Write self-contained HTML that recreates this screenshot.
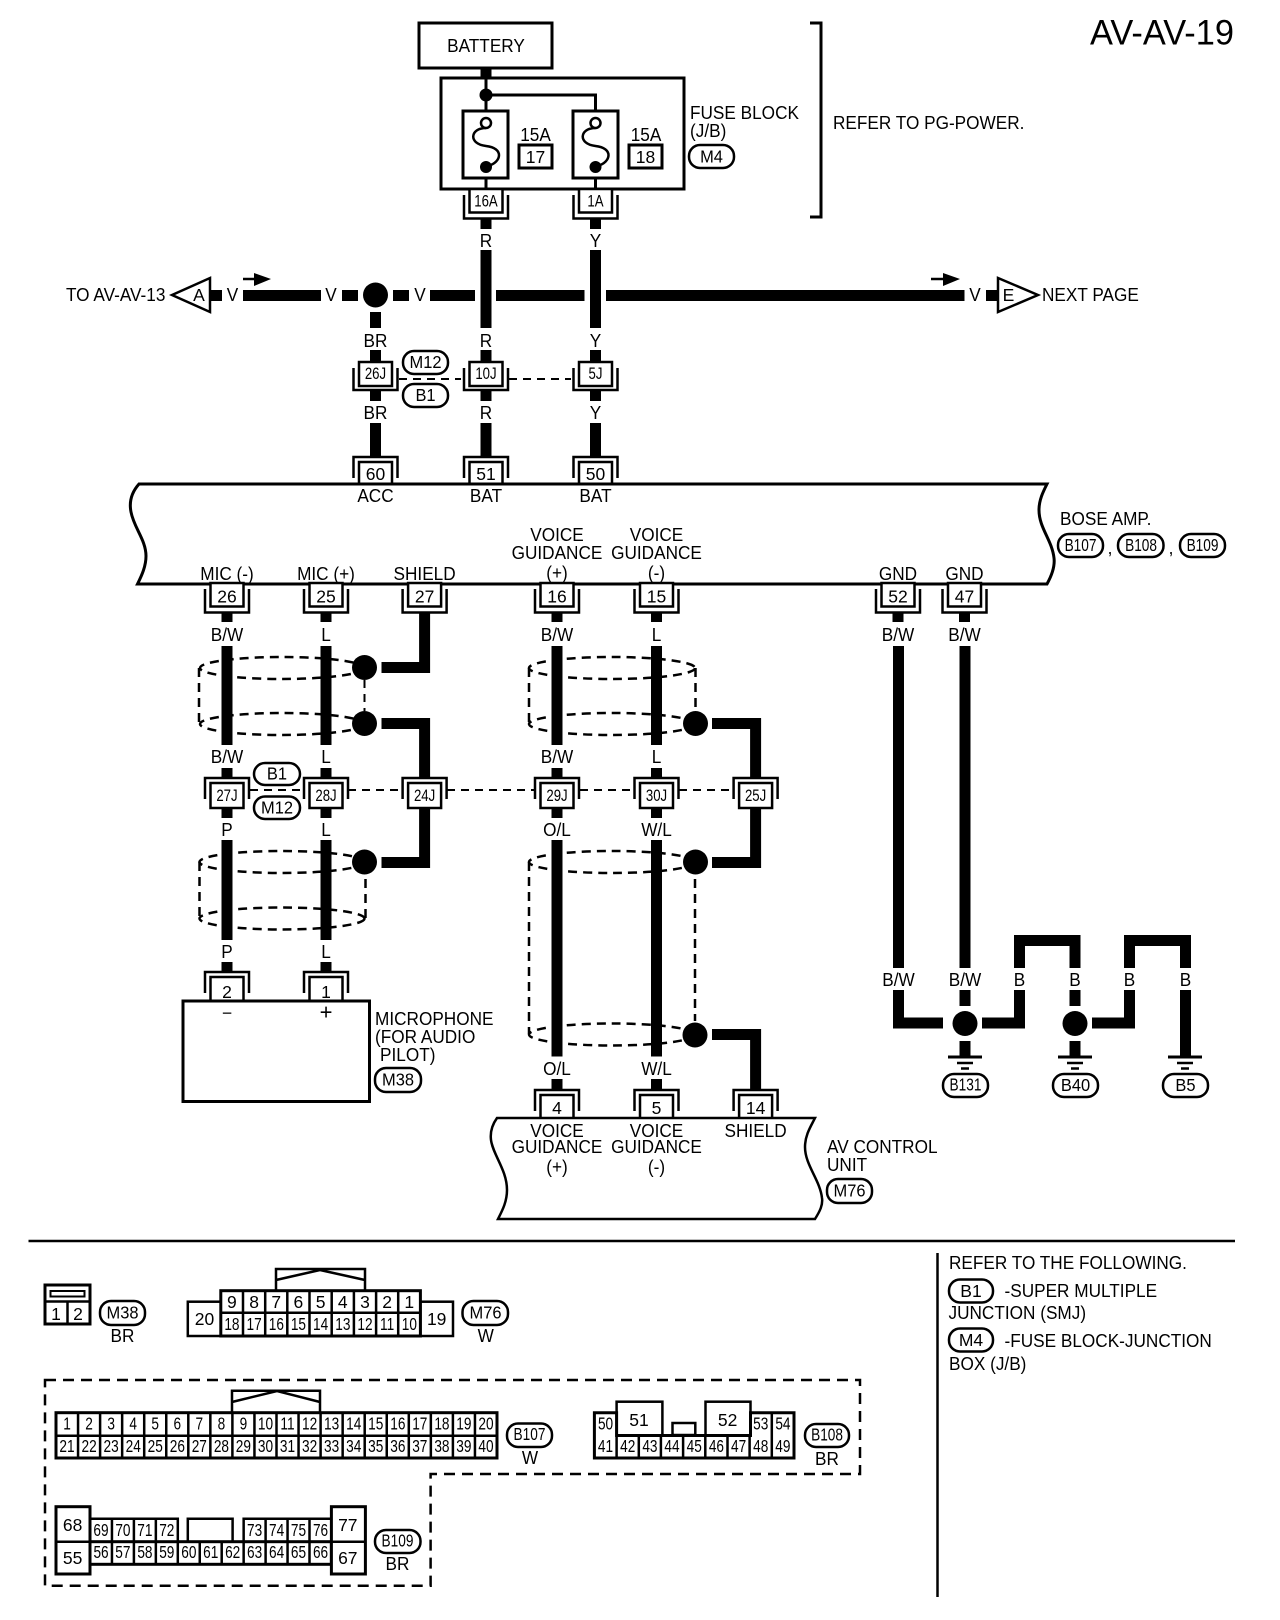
<!DOCTYPE html>
<html lang="en"><head><meta charset="utf-8"><title>AV-AV-19</title>
<style>
html,body{margin:0;padding:0;background:#fff}
svg{display:block}
text{font-family:"Liberation Sans",sans-serif;font-size:18.5px;fill:#000;text-anchor:middle;dominant-baseline:central;transform-box:fill-box;transform-origin:center;transform:scaleX(.93)}
.l{text-anchor:start;transform-origin:left center}
.j{font-size:16.5px;transform:scaleX(.8)}
.n{font-size:17.5px;transform:none}
.p{font-size:17.5px;transform:scaleX(.94)}
.q{font-size:17.5px;transform:scaleX(.78)}
.c{font-size:17.5px;transform:none}
.d{font-size:17.5px;transform:scaleX(.78)}
.h{font-size:35px;transform:none}
.t{stroke:#000;stroke-width:2.5;fill:none}
.w{stroke:#000;stroke-width:11;fill:none}
.v{stroke:#000;stroke-width:2.5;fill:none;stroke-dasharray:9 6}
.f{stroke:#000;stroke-width:2;fill:none;stroke-dasharray:8 6}
.b{fill:#fff;stroke:#000;stroke-width:3}
.o{fill:#fff;stroke:#000;stroke-width:2.5}
</style></head><body>
<svg width="1280" height="1620" viewBox="0 0 1280 1620" xmlns="http://www.w3.org/2000/svg">
<defs>
<g id="dn"><path class="t" d="M-22,5V28.5H22V5"/><rect class="o" x="-16.5" y="-1" width="33" height="23.5"/></g>
<g id="jd"><path class="t" d="M-22,6V28H22V6"/><rect class="o" x="-16.5" y="0" width="33" height="24"/></g>
<g id="up"><path class="t" d="M-22,21V0H22V21"/><rect class="o" x="-16.5" y="5" width="33" height="25"/></g>
<g id="gnd"><path d="M-17,0H17" stroke="#000" stroke-width="3"/><path d="M-8,6H8" stroke="#000" stroke-width="2.5"/><path d="M-4,11.5H4" stroke="#000" stroke-width="2.5"/></g>
<g id="fuse"><path class="t" d="M0,128C-16,128-18,144 0,146C18,148 16,162 2,166"/><circle class="o" cx="0" cy="123" r="5"/><circle cx="0" cy="167" r="6"/></g>
</defs>

<text class="h" x="1162" y="33" textLength="144" lengthAdjust="spacingAndGlyphs">AV-AV-19</text>

<!-- battery and fuses -->
<rect class="b" x="419" y="23" width="133" height="45"/>
<text x="486" y="46">BATTERY</text>
<path class="w" d="M486,68V78"/>
<rect class="b" x="441" y="78" width="243" height="111"/>
<path d="M486,78V118M486,95H595.5V118M486,167V189M595.5,167V189" stroke="#000" stroke-width="3" fill="none"/>
<circle cx="486" cy="95" r="6.5"/>
<rect class="b" x="463" y="111" width="45" height="67"/>
<rect class="b" x="573" y="111" width="45" height="67"/>
<use href="#fuse" x="486"/><use href="#fuse" x="595.5"/>
<text x="535.5" y="135">15A</text><rect class="b" x="519" y="145" width="33" height="23"/><text class="n" x="535.5" y="157">17</text>
<text x="646" y="135">15A</text><rect class="b" x="629" y="145" width="33" height="23"/><text class="n" x="645.5" y="157">18</text>
<text class="l" x="690" y="113">FUSE BLOCK</text><text class="l" x="690" y="131">(J/B)</text>
<rect class="o" x="689" y="145" width="45" height="23" rx="11"/><text class="p" x="711.5" y="157">M4</text>
<path d="M810,23H821V217H810" stroke="#000" stroke-width="3" fill="none"/>
<text class="l" x="833" y="123">REFER TO PG-POWER.</text>

<use href="#dn" x="486" y="190"/><use href="#dn" x="595.5" y="190"/>
<text class="j" x="486" y="201.5">16A</text><text class="j" x="595.5" y="201.5">1A</text>
<path class="w" d="M486,218V229M595.5,218V229M486,250V328M595.5,250V328"/>
<text x="486" y="241">R</text><text x="595.5" y="241">Y</text>

<!-- horizontal V wire -->
<text class="l" x="66" y="295">TO AV-AV-13</text>
<path class="o" d="M172,295L210,278V312Z"/><text class="c" x="199" y="295">A</text>
<path class="w" d="M211,295.5H222M243,295.5H321M342,295.5H358M393,295.5H409M430,295.5H475M496,295.5H584.5M606,295.5H964.5M986,295.5H998"/>
<text x="232.5" y="295">V</text><text x="331" y="295">V</text><text x="420" y="295">V</text><text x="975" y="295">V</text>
<circle cx="375.5" cy="295" r="12.5"/>
<path class="o" d="M1038,295L998,278V312Z"/><text class="c" x="1008.5" y="295">E</text>
<text class="l" x="1042" y="295">NEXT PAGE</text>
<path d="M243,279H258" stroke="#000" stroke-width="2.5"/><path d="M254,273L271,279L254,286Z"/>
<path d="M931,279H946" stroke="#000" stroke-width="2.5"/><path d="M943,273L960,279L943,286Z"/>

<path class="w" d="M375.5,312V328M375.5,350V362M486,350V362M595.5,350V362M375.5,390V401M486,390V401M595.5,390V401M375.5,423V457M486,423V457M595.5,423V457"/>
<text x="375.5" y="341">BR</text><text x="486" y="341">R</text><text x="595.5" y="341">Y</text>
<use href="#jd" x="375.5" y="362"/><use href="#jd" x="486" y="362"/><use href="#jd" x="595.5" y="362"/>
<text class="j" x="375.5" y="374">26J</text><text class="j" x="486" y="374">10J</text><text class="j" x="595.5" y="374">5J</text>
<path class="f" d="M399,379H461M509,379H571"/>
<rect class="o" x="403" y="351" width="45" height="23" rx="11"/><text class="p" x="425.5" y="362.5">M12</text>
<rect class="o" x="403" y="384" width="45" height="23" rx="11"/><text class="p" x="425.5" y="395.5">B1</text>
<text x="375.5" y="413">BR</text><text x="486" y="413">R</text><text x="595.5" y="413">Y</text>

<use href="#up" x="375.5" y="457"/><use href="#up" x="486" y="457"/><use href="#up" x="595.5" y="457"/>

<!-- BOSE AMP block -->
<path class="b" d="M139,484C131,493 129,502 131,512C134,528 146,540 146,556C146,566 142,575 137.5,584H1047C1052,575 1055,566 1054,558C1052,540 1039,528 1039,510C1039,500 1043,492 1047,484Z"/>
<text class="n" x="375.5" y="474">60</text><text class="n" x="486" y="474">51</text><text class="n" x="595.5" y="474">50</text>
<text x="375.5" y="496">ACC</text><text x="486" y="496">BAT</text><text x="595.5" y="496">BAT</text>
<text x="557" y="535">VOICE</text><text x="557" y="553">GUIDANCE</text><text x="557" y="573">(+)</text>
<text x="656.5" y="535">VOICE</text><text x="656.5" y="553">GUIDANCE</text><text x="656.5" y="573">(-)</text>
<text x="227" y="574">MIC (-)</text><text x="326" y="574">MIC (+)</text><text x="424.6" y="574">SHIELD</text>
<text x="898" y="574">GND</text><text x="964.5" y="574">GND</text>
<text class="l" x="1060" y="519">BOSE AMP.</text>
<rect class="o" x="1058" y="534" width="45" height="23" rx="11"/><text class="q" x="1080.5" y="546">B107</text><text x="1110" y="548">,</text>
<rect class="o" x="1118" y="534" width="45.5" height="23" rx="11"/><text class="q" x="1141" y="546">B108</text><text x="1171" y="548">,</text>
<rect class="o" x="1180" y="534" width="45" height="23" rx="11"/><text class="q" x="1202.5" y="546">B109</text>

<use href="#dn" x="227" y="584"/><use href="#dn" x="326" y="584"/><use href="#dn" x="424.6" y="584"/><use href="#dn" x="557" y="584"/><use href="#dn" x="656.5" y="584"/><use href="#dn" x="898" y="584"/><use href="#dn" x="964.5" y="584"/>
<text class="n" x="227" y="596.5">26</text><text class="n" x="326" y="596.5">25</text><text class="n" x="424.6" y="596.5">27</text><text class="n" x="557" y="596.5">16</text><text class="n" x="656.5" y="596.5">15</text><text class="n" x="898" y="596.5">52</text><text class="n" x="964.5" y="596.5">47</text>

<!-- shields -->
<ellipse class="v" cx="282" cy="668" rx="82" ry="11"/><ellipse class="v" cx="282" cy="724" rx="82" ry="11"/>
<path class="v" d="M199,668V724"/><path class="f" d="M364.5,680V711"/>
<ellipse class="v" cx="612" cy="668" rx="83" ry="11"/><ellipse class="v" cx="612" cy="724" rx="83" ry="11"/>
<path class="v" d="M529,668V724M695.5,668V712"/>
<ellipse class="v" cx="282" cy="862" rx="82.5" ry="11"/><ellipse class="v" cx="282" cy="918.5" rx="82.5" ry="11"/>
<path class="v" d="M199.5,862V918M365.5,879V918"/>
<ellipse class="v" cx="612" cy="862" rx="83" ry="11"/><ellipse class="v" cx="612" cy="1034.5" rx="83" ry="11"/>
<path class="v" d="M529,862V1034M695,879V1021"/>

<!-- mic/voice wires -->
<path class="w" d="M227,612V622M326,612V622M557,612V622M656.5,612V622M898,612V622M964.5,612V622M227,646V745M326,646V745M557,646V745M656.5,646V745M227,768V778M326,768V778M557,768V778M656.5,768V778M227,808V818M326,808V818M557,808V818M656.5,808V818M227,840V940M326,840V940M557,840V1056.5M656.5,840V1056.5M227,962V972M326,962V972M557,1079V1090M656.5,1079V1090"/>
<path class="w" d="M424.6,612V667.5H381.5M381.5,723.5H424.6V778M424.6,808V862.5H381.5M712,723.5H755.6V778M755.6,808V862.5H712M712,1034.5H755.6V1090M898.5,646V968M965,646V968"/>
<circle cx="364.5" cy="667.5" r="12.5"/><circle cx="364.5" cy="723.5" r="12.5"/><circle cx="364.5" cy="862" r="12.5"/>
<circle cx="695.5" cy="723.5" r="12.5"/><circle cx="695.5" cy="862" r="12.5"/><circle cx="695" cy="1035" r="12.5"/>
<text x="227" y="635">B/W</text><text x="326" y="635">L</text><text x="557" y="635">B/W</text><text x="656.5" y="635">L</text><text x="898" y="635">B/W</text><text x="964.5" y="635">B/W</text>
<text x="227" y="757">B/W</text><text x="326" y="757">L</text><text x="557" y="757">B/W</text><text x="656.5" y="757">L</text>
<text x="227" y="830">P</text><text x="326" y="830">L</text><text x="557" y="830">O/L</text><text x="656.5" y="830">W/L</text>

<path class="f" d="M250,790H303M348,790H403M447,790H534M580,790H633M679,790H734"/>
<use href="#up" x="227" y="778"/><use href="#up" x="326" y="778"/><use href="#up" x="424.6" y="778"/><use href="#up" x="557" y="778"/><use href="#up" x="656.5" y="778"/><use href="#up" x="755.6" y="778"/>
<text class="j" x="227" y="796">27J</text><text class="j" x="326" y="796">28J</text><text class="j" x="424.6" y="796">24J</text><text class="j" x="557" y="796">29J</text><text class="j" x="656.5" y="796">30J</text><text class="j" x="755.6" y="796">25J</text>
<rect class="o" x="254" y="763" width="46" height="22" rx="11"/><text class="p" x="277" y="774">B1</text>
<rect class="o" x="254" y="796.5" width="46" height="22.5" rx="11"/><text class="p" x="277" y="808">M12</text>

<text x="227" y="952">P</text><text x="326" y="952">L</text>
<use href="#up" x="227" y="972"/><use href="#up" x="326" y="972"/>
<rect class="b" x="183" y="1001" width="186.5" height="100.5"/>
<text class="n" x="227" y="992">2</text><text class="n" x="326" y="992">1</text>
<text class="n" x="227" y="1013">−</text><text style="font-size:22px;transform:none" x="326" y="1012">+</text>
<text class="l" x="375" y="1019">MICROPHONE</text><text class="l" x="375" y="1037">(FOR AUDIO</text><text class="l" x="380" y="1055">PILOT)</text>
<rect class="o" x="375" y="1068" width="46" height="24" rx="11"/><text class="p" x="398" y="1080">M38</text>

<text x="557" y="1069">O/L</text><text x="656.5" y="1069">W/L</text>
<use href="#up" x="557" y="1090"/><use href="#up" x="656.5" y="1090"/><use href="#up" x="755.6" y="1090"/>
<!-- AV control unit -->
<path class="o" d="M497,1118C492,1125 490,1132 491,1140C493,1155 507,1170 507,1190C507,1202 502,1211 498,1219H815C820,1211 823,1205 822,1198C820,1180 805,1165 805,1147C805,1135 811,1126 815,1118Z"/>
<text class="n" x="557" y="1108">4</text><text class="n" x="656.5" y="1108">5</text><text class="n" x="755.6" y="1108">14</text>
<text x="557" y="1131">VOICE</text><text x="557" y="1147">GUIDANCE</text><text x="557" y="1167">(+)</text>
<text x="656.5" y="1131">VOICE</text><text x="656.5" y="1147">GUIDANCE</text><text x="656.5" y="1167">(-)</text>
<text x="755.6" y="1131">SHIELD</text>
<text class="l" x="827" y="1147">AV CONTROL</text><text class="l" x="827" y="1165">UNIT</text>
<rect class="o" x="827" y="1179" width="45" height="24" rx="11"/><text class="p" x="849.5" y="1191">M76</text>

<!-- grounds -->
<path class="w" d="M898.5,990V1023H943M965,990V1006M965,1041V1057M982,1023H1019.5V990M1019.5,968V940.5H1075V968M1075,990V1006M1075,1041V1057M1092,1023H1129.5V990M1129.5,968V940.5H1185.5V968M1185.5,990V1057"/>
<circle cx="965" cy="1023.5" r="12.5"/><circle cx="1075" cy="1023.5" r="12.5"/>
<text x="898.5" y="980">B/W</text><text x="965" y="980">B/W</text><text x="1019.5" y="980">B</text><text x="1075" y="980">B</text><text x="1129.5" y="980">B</text><text x="1185.5" y="980">B</text>
<use href="#gnd" x="965" y="1057"/><use href="#gnd" x="1075" y="1057"/><use href="#gnd" x="1185" y="1057"/>
<rect class="o" x="943" y="1074" width="45" height="23" rx="11"/><text class="q" x="965.5" y="1085.5">B131</text>
<rect class="o" x="1053" y="1074" width="45" height="23" rx="11"/><text class="p" x="1075.5" y="1085.5">B40</text>
<rect class="o" x="1163" y="1074" width="45" height="23" rx="11"/><text class="p" x="1185.5" y="1085.5">B5</text>

<!-- bottom panel -->
<path d="M28.5,1241H1235" stroke="#000" stroke-width="2.5"/>
<path d="M937.5,1253V1597" stroke="#000" stroke-width="2.5"/>
<text class="l" x="949" y="1263">REFER TO THE FOLLOWING.</text>
<rect class="o" x="949" y="1279.5" width="44" height="23" rx="11"/><text class="c" x="971" y="1291">B1</text>
<text class="l" x="1004.5" y="1291">-SUPER MULTIPLE</text>
<text class="l" x="948.5" y="1313">JUNCTION (SMJ)</text>
<rect class="o" x="949" y="1328.5" width="44" height="23" rx="11"/><text class="c" x="971" y="1340">M4</text>
<text class="l" x="1004.5" y="1341">-FUSE BLOCK-JUNCTION</text>
<text class="l" x="949" y="1364">BOX (J/B)</text>

<!-- M38 connector -->
<rect class="b" x="45" y="1285" width="45" height="39"/>
<rect x="50.5" y="1291" width="34" height="5.5" fill="none" stroke="#000" stroke-width="2"/>
<path class="t" d="M45,1301.5H90M67.5,1301.5V1324"/>
<text class="n" x="56" y="1314">1</text><text class="n" x="78" y="1314">2</text>
<rect class="o" x="100" y="1301" width="45" height="24" rx="11"/><text class="p" x="122.5" y="1313">M38</text>
<text x="122.5" y="1336">BR</text>

<!-- M76 connector -->
<path class="t" d="M276,1290.5V1269H365V1290.5M276,1280L320,1270L365,1280"/>
<rect class="o" x="187.8" y="1301.7" width="33" height="34.3"/><rect class="o" x="420.4" y="1301.7" width="32.6" height="34.3"/>
<rect class="b" x="220.8" y="1290.7" width="199.6" height="45.3"/>
<path class="t" d="M220.8,1312.7H420.4M243,1290.7V1336M265.2,1290.7V1336M287.3,1290.7V1336M309.5,1290.7V1336M331.7,1290.7V1336M353.9,1290.7V1336M376.1,1290.7V1336M398.2,1290.7V1336"/>
<text class="n" x="231.9" y="1302">9</text><text class="n" x="254.1" y="1302">8</text><text class="n" x="276.3" y="1302">7</text><text class="n" x="298.4" y="1302">6</text><text class="n" x="320.6" y="1302">5</text><text class="n" x="342.8" y="1302">4</text><text class="n" x="365" y="1302">3</text><text class="n" x="387.1" y="1302">2</text><text class="n" x="409.3" y="1302">1</text>
<text class="d" x="231.9" y="1325">18</text><text class="d" x="254.1" y="1325">17</text><text class="d" x="276.3" y="1325">16</text><text class="d" x="298.4" y="1325">15</text><text class="d" x="320.6" y="1325">14</text><text class="d" x="342.8" y="1325">13</text><text class="d" x="365" y="1325">12</text><text class="d" x="387.1" y="1325">11</text><text class="d" x="409.3" y="1325">10</text>
<text class="c" x="204.5" y="1319">20</text><text class="c" x="436.7" y="1319">19</text>
<rect class="o" x="462.5" y="1301" width="45.5" height="24" rx="11"/><text class="p" x="485.5" y="1313">M76</text>
<text x="485.7" y="1336">W</text>

<!-- dashed outline -->
<path class="v" d="M45,1380H860V1474H430.6V1585.7H45Z" style="stroke-dasharray:11 7"/>

<!-- B107 -->
<path class="t" d="M232,1412V1390.7H320V1412M232,1402L277,1391L320,1402"/>
<rect class="b" x="56" y="1412.7" width="441" height="45.3"/>
<path class="t" d="M56,1435.7H497M78.05,1412.7V1458M100.1,1412.7V1458M122.15,1412.7V1458M144.2,1412.7V1458M166.25,1412.7V1458M188.3,1412.7V1458M210.35,1412.7V1458M232.4,1412.7V1458M254.45,1412.7V1458M276.5,1412.7V1458M298.55,1412.7V1458M320.6,1412.7V1458M342.65,1412.7V1458M364.7,1412.7V1458M386.75,1412.7V1458M408.8,1412.7V1458M430.85,1412.7V1458M452.9,1412.7V1458M474.95,1412.7V1458"/>
<text class="d" x="67" y="1424.5">1</text><text class="d" x="89.1" y="1424.5">2</text><text class="d" x="111.1" y="1424.5">3</text><text class="d" x="133.2" y="1424.5">4</text><text class="d" x="155.2" y="1424.5">5</text><text class="d" x="177.3" y="1424.5">6</text><text class="d" x="199.3" y="1424.5">7</text><text class="d" x="221.4" y="1424.5">8</text><text class="d" x="243.4" y="1424.5">9</text><text class="d" x="265.5" y="1424.5">10</text><text class="d" x="287.5" y="1424.5">11</text><text class="d" x="309.6" y="1424.5">12</text><text class="d" x="331.6" y="1424.5">13</text><text class="d" x="353.7" y="1424.5">14</text><text class="d" x="375.7" y="1424.5">15</text><text class="d" x="397.8" y="1424.5">16</text><text class="d" x="419.8" y="1424.5">17</text><text class="d" x="441.9" y="1424.5">18</text><text class="d" x="463.9" y="1424.5">19</text><text class="d" x="486" y="1424.5">20</text>
<text class="d" x="67" y="1447">21</text><text class="d" x="89.1" y="1447">22</text><text class="d" x="111.1" y="1447">23</text><text class="d" x="133.2" y="1447">24</text><text class="d" x="155.2" y="1447">25</text><text class="d" x="177.3" y="1447">26</text><text class="d" x="199.3" y="1447">27</text><text class="d" x="221.4" y="1447">28</text><text class="d" x="243.4" y="1447">29</text><text class="d" x="265.5" y="1447">30</text><text class="d" x="287.5" y="1447">31</text><text class="d" x="309.6" y="1447">32</text><text class="d" x="331.6" y="1447">33</text><text class="d" x="353.7" y="1447">34</text><text class="d" x="375.7" y="1447">35</text><text class="d" x="397.8" y="1447">36</text><text class="d" x="419.8" y="1447">37</text><text class="d" x="441.9" y="1447">38</text><text class="d" x="463.9" y="1447">39</text><text class="d" x="486" y="1447">40</text>
<rect class="o" x="507" y="1423.5" width="45" height="23.5" rx="11"/><text class="q" x="529.5" y="1435">B107</text>
<text x="530" y="1458">W</text>

<!-- B108 -->
<rect class="o" x="616.6" y="1401.7" width="45.8" height="34"/><rect class="o" x="705.5" y="1401.7" width="45" height="34"/><rect class="o" x="672.5" y="1423" width="22.8" height="12"/>
<path class="b" d="M594.4,1412.7H616.6V1435.5H750.5V1412.7H794V1458H594.4Z"/>
<path class="t" d="M616.6,1412.7V1458M638.8,1435.5V1458M660.9,1435.5V1458M683.1,1435.5V1458M705.3,1435.5V1458M727.5,1435.5V1458M749.6,1435.5V1458M771.8,1412.7V1458"/>
<text class="d" x="605.5" y="1424.5">50</text><text class="c" x="639" y="1420">51</text><text class="c" x="727.6" y="1420">52</text><text class="d" x="760.7" y="1424.5">53</text><text class="d" x="782.9" y="1424.5">54</text>
<text class="d" x="605.5" y="1447">41</text><text class="d" x="627.7" y="1447">42</text><text class="d" x="649.9" y="1447">43</text><text class="d" x="672" y="1447">44</text><text class="d" x="694.2" y="1447">45</text><text class="d" x="716.4" y="1447">46</text><text class="d" x="738.6" y="1447">47</text><text class="d" x="760.7" y="1447">48</text><text class="d" x="782.9" y="1447">49</text>
<rect class="o" x="805" y="1424" width="44" height="23" rx="11"/><text class="q" x="827" y="1435.5">B108</text>
<text x="827" y="1459">BR</text>

<!-- B109 -->
<path class="t" d="M90,1518.7H177.8V1541.7M111.95,1518.7V1541.7M133.9,1518.7V1541.7M155.85,1518.7V1541.7M187.8,1541.7V1518.7H232.6V1541.7M243.65,1541.7V1518.7H331.4M265.6,1518.7V1541.7M287.55,1518.7V1541.7M309.5,1518.7V1541.7"/>
<rect class="b" x="90" y="1541.7" width="241.4" height="22.6"/>
<path class="t" d="M111.95,1541.7V1564.3M133.9,1541.7V1564.3M155.85,1541.7V1564.3M177.8,1541.7V1564.3M199.75,1541.7V1564.3M221.7,1541.7V1564.3M243.65,1541.7V1564.3M265.6,1541.7V1564.3M287.55,1541.7V1564.3M309.5,1541.7V1564.3"/>
<rect class="b" x="56" y="1506.7" width="34" height="67.3"/><path class="t" d="M56,1541.7H90"/>
<rect class="b" x="331.4" y="1506.7" width="34" height="67.3"/><path class="t" d="M331.4,1541.7H365.4"/>
<text class="c" x="72.6" y="1525">68</text><text class="c" x="72.6" y="1558">55</text><text class="c" x="347.8" y="1525">77</text><text class="c" x="347.8" y="1558">67</text>
<text class="d" x="101" y="1531">69</text><text class="d" x="122.9" y="1531">70</text><text class="d" x="144.9" y="1531">71</text><text class="d" x="166.8" y="1531">72</text><text class="d" x="254.6" y="1531">73</text><text class="d" x="276.6" y="1531">74</text><text class="d" x="298.5" y="1531">75</text><text class="d" x="320.5" y="1531">76</text>
<text class="d" x="101" y="1553">56</text><text class="d" x="122.9" y="1553">57</text><text class="d" x="144.9" y="1553">58</text><text class="d" x="166.8" y="1553">59</text><text class="d" x="188.8" y="1553">60</text><text class="d" x="210.7" y="1553">61</text><text class="d" x="232.7" y="1553">62</text><text class="d" x="254.6" y="1553">63</text><text class="d" x="276.6" y="1553">64</text><text class="d" x="298.5" y="1553">65</text><text class="d" x="320.5" y="1553">66</text>
<rect class="o" x="375" y="1530" width="45.5" height="23" rx="11"/><text class="q" x="397.5" y="1541.5">B109</text>
<text x="397.5" y="1564">BR</text>
</svg>
</body></html>
